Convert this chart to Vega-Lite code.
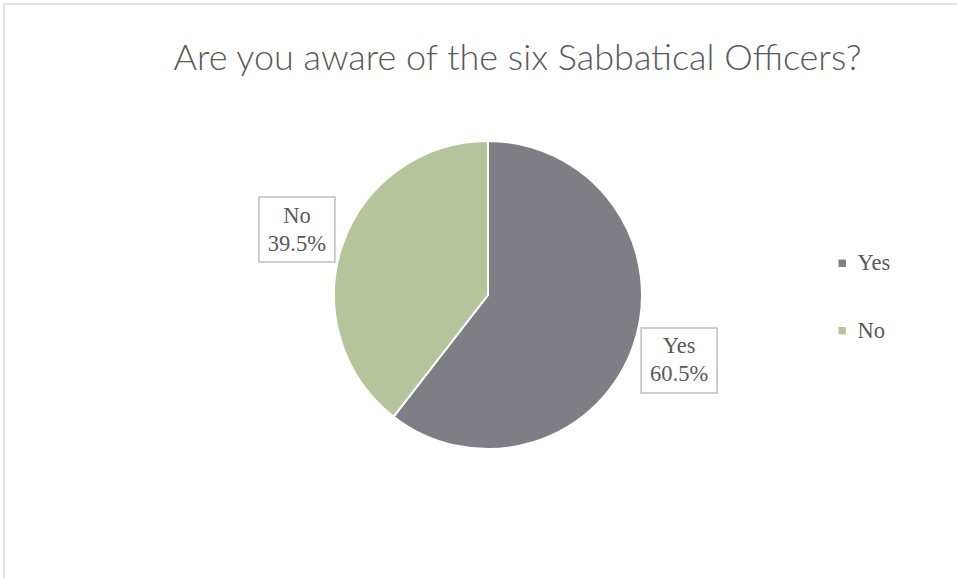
{
  "$schema": "https://vega.github.io/schema/vega-lite/v6.json",
  "width": 968,
  "height": 582,
  "autosize": {"type": "none"},
  "padding": {"left": 4, "top": 4, "right": -15, "bottom": -8},
  "background": "white",
  "title": {
    "text": "Are you aware of the six Sabbatical Officers?",
    "anchor": "middle",
    "frame": "group",
    "orient": "top",
    "font": "Lato",
    "fontWeight": 300,
    "fontSize": 36,
    "color": "#595959",
    "baseline": "alphabetic",
    "dx": 29.5,
    "dy": 106
  },
  "config": {
    "view": {"stroke": "#d9d9d9", "strokeWidth": 1.5}
  },
  "data": {
    "values": [
      {"answer": "Yes", "value": 0.605},
      {"answer": "No", "value": 0.395}
    ]
  },
  "layer": [
    {
      "mark": {"type": "arc", "outerRadius": 154, "stroke": "white", "strokeWidth": 2},
      "encoding": {
        "theta": {"field": "value", "type": "quantitative", "stack": true},
        "order": {"field": "value", "type": "quantitative", "sort": "descending"},
        "color": {
          "field": "answer",
          "type": "nominal",
          "scale": {"domain": ["Yes", "No"], "range": ["#7f7e85", "#b6c49b"]},
          "legend": {
            "title": null,
            "orient": "none",
            "legendX": 827,
            "legendY": 248,
            "symbolType": "square",
            "symbolSize": 55,
            "symbolStrokeWidth": 0,
            "labelFont": "Liberation Serif",
            "labelFontSize": 22.5,
            "labelColor": "#595959",
            "labelOffset": 4,
            "rowPadding": 44.5,
            "padding": 0
          }
        }
      }
    },
    {
      "transform": [
        {"window": [{"op": "sum", "field": "value", "as": "cum"}], "sort": [{"field": "value", "order": "descending"}]},
        {"calculate": "(datum.cum - datum.value / 2) * 2 * PI", "as": "mid"},
        {"calculate": "sin(datum.mid) * 202", "as": "bx"},
        {"calculate": "cos(datum.mid) * 202", "as": "by"}
      ],
      "mark": {
        "type": "point",
        "shape": "M-1.086,-0.929H1.086V0.929H-1.086Z",
        "size": 4900,
        "filled": true,
        "fill": "white",
        "stroke": "#bfbfbf",
        "strokeWidth": 1.5,
        "opacity": 1
      },
      "encoding": {
        "x": {"field": "bx", "type": "quantitative", "scale": {"domain": [-484, 484], "nice": false, "zero": false}, "axis": null},
        "y": {"field": "by", "type": "quantitative", "scale": {"domain": [-291, 291], "nice": false, "zero": false}, "axis": null}
      }
    },
    {
      "mark": {"type": "text", "radius": 202, "dy": -14, "font": "Liberation Serif", "fontSize": 22.5, "color": "#595959", "baseline": "middle"},
      "encoding": {
        "theta": {"field": "value", "type": "quantitative", "stack": true},
        "order": {"field": "value", "type": "quantitative", "sort": "descending"},
        "text": {"field": "answer", "type": "nominal"}
      }
    },
    {
      "mark": {"type": "text", "radius": 202, "dy": 14, "font": "Liberation Serif", "fontSize": 22.5, "color": "#595959", "baseline": "middle"},
      "encoding": {
        "theta": {"field": "value", "type": "quantitative", "stack": true},
        "order": {"field": "value", "type": "quantitative", "sort": "descending"},
        "text": {"field": "value", "type": "quantitative", "format": ".1%"}
      }
    }
  ]
}
